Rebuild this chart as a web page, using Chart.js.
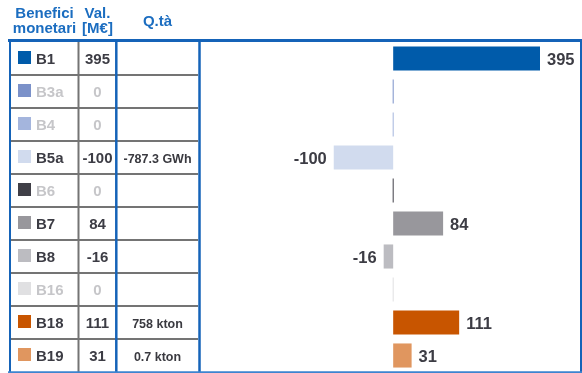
<!DOCTYPE html>
<html>
<head>
<meta charset="utf-8">
<script src="https://cdn.jsdelivr.net/npm/chart.js@4/dist/chart.umd.min.js"></script>
<style>
  html, body { margin: 0; padding: 0; background: #ffffff; }
  canvas { display: block; }
</style>
</head>
<body>
<canvas id="benefici" width="582" height="373"></canvas>
<script>
// Monetised benefits per indicator (M€) with physical quantities
const benefitCodes = ['B1', 'B3a', 'B4', 'B5a', 'B6', 'B7', 'B8', 'B16', 'B18', 'B19'];
const valuesMEUR = [395, 0, 0, -100, 0, 84, -16, 0, 111, 31];
const quantities = ['', '', '', '-787.3 GWh', '', '', '', '', '758 kton', '0.7 kton'];
const seriesColors = ['#005baa', '#7b91c9', '#a4b5dd', '#d1dbee', '#403f47',
                      '#98979c', '#bcbcc1', '#e0e0e2', '#c85500', '#e0965f'];
const headerBenefit = ['Benefici', 'monetari'];
const headerValue = ['Val.', '[M€]'];
const headerQty = 'Q.tà';

const FONT = '"Liberation Sans", Arial, Helvetica, sans-serif';
const BLUE = '#1563b8';
const HEAD_BLUE = '#1b6dc0';
const GRID_GRAY = '#747474';
const TEXT_DARK = '#3c3c44';
const TEXT_MUTED = '#c6c6c9';

// Left-hand table: header, legend swatches, values and quantities, aligned to the category bands
const benefitTable = {
  id: 'benefitTable',
  afterDraw(chart) {
    const ctx = chart.ctx;
    const y = chart.scales.y;
    const n = benefitCodes.length;
    const band = (y.bottom - y.top) / n;
    const colName = 44.5, colVal = 97.5, colQty = 157.5;

    ctx.save();
    // header
    ctx.fillStyle = HEAD_BLUE;
    ctx.font = 'bold 15px ' + FONT;
    ctx.textAlign = 'center';
    ctx.textBaseline = 'alphabetic';
    ctx.fillText(headerBenefit[0], colName, 17.5);
    ctx.fillText(headerBenefit[1], colName, 33);
    ctx.fillText(headerValue[0], colVal, 17.5);
    ctx.fillText(headerValue[1], colVal, 33);
    ctx.fillText(headerQty, colQty, 25.5);

    // rows
    benefitCodes.forEach((code, i) => {
      const cy = y.getPixelForValue(i);
      const muted = valuesMEUR[i] === 0;
      ctx.fillStyle = seriesColors[i];
      ctx.fillRect(18, cy - 7.5, 13, 13);

      ctx.fillStyle = muted ? TEXT_MUTED : TEXT_DARK;
      ctx.font = 'bold 15px ' + FONT;
      ctx.textAlign = 'left';
      ctx.fillText(code, 36, cy + 5.5);
      ctx.textAlign = 'center';
      ctx.fillText(String(valuesMEUR[i]), colVal, cy + 5.5);

      if (quantities[i]) {
        ctx.fillStyle = '#3a3a40';
        ctx.font = 'bold 12.5px ' + FONT;
        ctx.fillText(quantities[i], colQty, cy + 5);
      }
    });

    // grey row separators inside the table
    ctx.strokeStyle = GRID_GRAY;
    ctx.lineWidth = 2;
    for (let i = 1; i < n; i++) {
      const ly = y.top + band * i;
      ctx.beginPath();
      ctx.moveTo(10, ly);
      ctx.lineTo(198, ly);
      ctx.stroke();
    }
    ctx.beginPath();
    ctx.moveTo(78.5, y.top);
    ctx.lineTo(78.5, y.bottom);
    ctx.stroke();

    // blue frame
    ctx.strokeStyle = BLUE;
    ctx.lineWidth = 2.5;
    [116.3, 199.5].forEach(x => {
      ctx.beginPath();
      ctx.moveTo(x, 40);
      ctx.lineTo(x, 373);
      ctx.stroke();
    });
    ctx.lineWidth = 2;
    ctx.beginPath();
    ctx.moveTo(10, 40);
    ctx.lineTo(10, 373);
    ctx.moveTo(581, 40);
    ctx.lineTo(581, 373);
    ctx.stroke();
    ctx.lineWidth = 3;
    ctx.beginPath();
    ctx.moveTo(8, 40.5);
    ctx.lineTo(582, 40.5);
    ctx.stroke();
    ctx.strokeStyle = '#3d84cf';
    ctx.lineWidth = 2;
    ctx.beginPath();
    ctx.moveTo(8, 372.3);
    ctx.lineTo(582, 372.3);
    ctx.stroke();
    ctx.restore();
  }
};

// Value labels beside each non-zero bar
const barValueLabels = {
  id: 'barValueLabels',
  afterDatasetsDraw(chart) {
    const ctx = chart.ctx;
    const area = chart.chartArea;
    const meta = chart.getDatasetMeta(0);
    ctx.save();
    ctx.font = 'bold 16.5px ' + FONT;
    ctx.fillStyle = TEXT_DARK;
    ctx.textBaseline = 'alphabetic';
    meta.data.forEach((bar, i) => {
      const v = valuesMEUR[i];
      if (v === 0) return;
      const baseY = bar.y + 6;
      if (v > 0) {
        ctx.textAlign = 'left';
        ctx.fillText(String(v), Math.min(bar.x, area.right) + 7, baseY);
      } else {
        ctx.textAlign = 'right';
        ctx.fillText(String(v), Math.max(bar.x, area.left) - 7, baseY);
      }
    });
    ctx.restore();
  }
};

new Chart(document.getElementById('benefici'), {
  type: 'bar',
  data: {
    labels: benefitCodes,
    datasets: [{
      data: valuesMEUR,
      backgroundColor: seriesColors,
      borderWidth: 0,
      barPercentage: 0.73,
      categoryPercentage: 1,
      minBarLength: 1,
      clip: 0
    }]
  },
  options: {
    indexAxis: 'y',
    responsive: false,
    animation: false,
    layout: { padding: { left: 200, right: 42, top: 42, bottom: 1 } },
    scales: {
      x: { display: false, min: -325, max: 247 },
      y: { display: false }
    },
    plugins: {
      legend: { display: false },
      tooltip: { enabled: false }
    }
  },
  plugins: [benefitTable, barValueLabels]
});
</script>
</body>
</html>
